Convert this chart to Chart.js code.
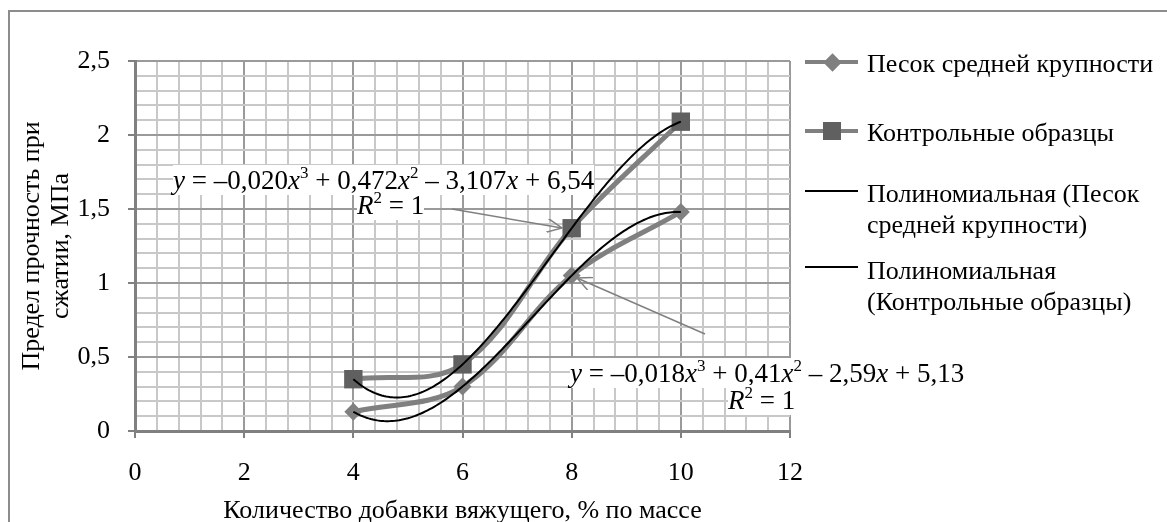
<!DOCTYPE html>
<html>
<head>
<meta charset="utf-8">
<script src="https://cdn.jsdelivr.net/npm/chart.js@4.4.1/dist/chart.umd.min.js"></script>
<style>
  body { margin: 0; background: #fff; overflow: hidden; }
  #wrap { position: relative; width: 1167px; height: 522px; font-family: "Liberation Serif", "Times New Roman", serif; color: #000; }
  #frame { position: absolute; left: 8px; top: 10px; width: 1300px; height: 700px; border: 2px solid #8c8c8c; }
  #c { position: absolute; left: 0; top: 0; }
  .lg { position: absolute; left: 867px; font-size: 26px; line-height: 31px; white-space: nowrap; }
  .ln { position: absolute; left: 805px; width: 53px; }
  .eq { position: absolute; font-size: 27px; line-height: 26px; white-space: nowrap; }
  .eq span { background: #fff; }
  sup { font-size: 17px; line-height: 0; vertical-align: 0; position: relative; top: -11px; }
  svg { position: absolute; left: 0; top: 0; }
</style>
</head>
<body>
<div id="wrap">
  <div id="frame"></div>
  <canvas id="c" width="1167" height="522"></canvas>

  <svg width="1167" height="522">
    <defs>
      <marker id="ah" viewBox="0 0 16 14" refX="15" refY="7" markerWidth="16" markerHeight="14" markerUnits="userSpaceOnUse" orient="auto">
        <path d="M0,0 L15,7 L0,14" fill="none" stroke="#808080" stroke-width="1.5"/>
      </marker>
    </defs>
    <g stroke="#808080" stroke-width="1.5">
      <line x1="452" y1="209" x2="562" y2="228" marker-end="url(#ah)"/>
      <line x1="705" y1="334" x2="577" y2="278" marker-end="url(#ah)"/>
    </g>
  </svg>

  <div class="eq" style="left:173px; top:167px"><span><i>y</i> = –0,020<i>x</i><sup>3</sup> + 0,472<i>x</i><sup>2</sup> – 3,107<i>x</i> + 6,54</span></div>
  <div class="eq" style="left:357px; top:192px"><span><i>R</i><sup>2</sup> = 1</span></div>
  <div class="eq" style="left:570px; top:360px"><span><i>y</i> = –0,018<i>x</i><sup>3</sup> + 0,41<i>x</i><sup>2</sup> – 2,59<i>x</i> + 5,13</span></div>
  <div class="eq" style="left:728px; top:387px"><span><i>R</i><sup>2</sup> = 1</span></div>

  <!-- legend -->
  <div class="ln" style="top:60px; border-top:4px solid #808080"></div>
  <div style="position:absolute; left:826px; top:56px; width:13px; height:13px; background:#808080; transform:rotate(45deg)"></div>
  <div class="lg" style="top:48px">Песок средней крупности</div>

  <div class="ln" style="top:129px; border-top:4px solid #808080"></div>
  <div style="position:absolute; left:823px; top:122px; width:18px; height:18px; background:#606060"></div>
  <div class="lg" style="top:117px">Контрольные образцы</div>

  <div class="ln" style="top:190px; border-top:2px solid #000"></div>
  <div class="lg" style="top:178px">Полиномиальная (Песок<br>средней крупности)</div>

  <div class="ln" style="top:266px; border-top:2px solid #000"></div>
  <div class="lg" style="top:255px">Полиномиальная<br>(Контрольные образцы)</div>
</div>

<script>
const xValues = [4, 6, 8, 10];
const sandY = [0.13, 0.30, 1.05, 1.48];
const controlY = [0.35, 0.45, 1.37, 2.09];

const xTickValues = [0, 2, 4, 6, 8, 10, 12];
const xTickLabels = ['0', '2', '4', '6', '8', '10', '12'];
const yTickValues = [0, 0.5, 1, 1.5, 2, 2.5];
const yTickLabels = ['0', '0,5', '1', '1,5', '2', '2,5'];

const FONT = '"Liberation Serif", "Times New Roman", serif';

function toPoints(ys) {
  return xValues.map((x, i) => ({ x: x, y: ys[i] }));
}

function majorIndex(list, v) {
  return list.findIndex(t => Math.abs(t - v) < 1e-6);
}

// cubic trendline (order 3 polynomial through the 4 points, R^2 = 1)
function polyAt(pts, xv) {
  let s = 0;
  for (let i = 0; i < pts.length; i++) {
    let l = 1;
    for (let j = 0; j < pts.length; j++) {
      if (j !== i) l *= (xv - pts[j].x) / (pts[i].x - pts[j].x);
    }
    s += pts[i].y * l;
  }
  return s;
}

const trendPlugin = {
  id: 'trendLines',
  afterDatasetsDraw(chart) {
    const { ctx, scales: { x, y } } = chart;
    chart.data.datasets.forEach(ds => {
      if (!ds.trend) return;
      const pts = ds.data;
      const x0 = pts[0].x, x1 = pts[pts.length - 1].x;
      ctx.save();
      ctx.strokeStyle = ds.borderColor;
      ctx.lineWidth = ds.borderWidth;
      ctx.beginPath();
      for (let i = 0; i <= 150; i++) {
        const xv = x0 + (x1 - x0) * i / 150;
        const px = x.getPixelForValue(xv);
        const py = y.getPixelForValue(polyAt(pts, xv));
        if (i === 0) ctx.moveTo(px, py); else ctx.lineTo(px, py);
      }
      ctx.stroke();
      ctx.restore();
    });
  }
};

const gridColor = list => c => majorIndex(list, c.tick.value) >= 0 ? '#9a9a9a' : '#c8c8c8';
const tickColor = list => c => majorIndex(list, c.tick.value) >= 0 ? '#808080' : 'rgba(0,0,0,0)';

new Chart(document.getElementById('c'), {
  type: 'scatter',
  data: {
    datasets: [
      {
        label: 'Песок средней крупности',
        data: toPoints(sandY),
        showLine: true,
        borderColor: '#808080',
        borderWidth: 5,
        tension: 0.35,
        pointStyle: 'rectRot',
        pointRadius: 9,
        pointBackgroundColor: '#808080',
        pointBorderWidth: 0
      },
      {
        label: 'Контрольные образцы',
        data: toPoints(controlY),
        showLine: true,
        borderColor: '#808080',
        borderWidth: 5,
        tension: 0.35,
        pointStyle: 'rect',
        pointRadius: 13,
        pointBackgroundColor: '#606060',
        pointBorderWidth: 0
      },
      {
        label: 'Полиномиальная (Песок средней крупности)',
        data: toPoints(sandY),
        trend: true,
        showLine: false,
        pointRadius: 0,
        borderColor: '#000',
        borderWidth: 2
      },
      {
        label: 'Полиномиальная (Контрольные образцы)',
        data: toPoints(controlY),
        trend: true,
        showLine: false,
        pointRadius: 0,
        borderColor: '#000',
        borderWidth: 2
      }
    ]
  },
  options: {
    responsive: false,
    animation: false,
    devicePixelRatio: 1,
    layout: { padding: { left: 0, top: 61, right: 377, bottom: 0 } },
    plugins: { legend: { display: false }, tooltip: { enabled: false } },
    scales: {
      x: {
        type: 'linear',
        min: xTickValues[0],
        max: xTickValues[xTickValues.length - 1],
        afterFit: s => { s.height = 91; },
        ticks: {
          stepSize: 0.4,
          maxTicksLimit: 100,
          autoSkip: false,
          maxRotation: 0,
          padding: 20,
          color: '#000',
          font: { family: FONT, size: 26 },
          callback: v => { const i = majorIndex(xTickValues, v); return i >= 0 ? xTickLabels[i] : ''; }
        },
        grid: { color: gridColor(xTickValues), lineWidth: 2, tickLength: 7, tickColor: tickColor(xTickValues), tickWidth: 2 },
        border: { color: '#808080', width: 3 },
        title: {
          display: true,
          text: 'Количество добавки вяжущего, % по массе',
          color: '#000',
          font: { family: FONT, size: 26, lineHeight: '22px' },
          padding: { top: 0, bottom: 0 }
        }
      },
      y: {
        min: yTickValues[0],
        max: yTickValues[yTickValues.length - 1],
        afterFit: s => { s.width = 135; },
        ticks: {
          stepSize: 0.1,
          maxTicksLimit: 100,
          autoSkip: false,
          padding: 18,
          color: '#000',
          font: { family: FONT, size: 26 },
          callback: v => { const i = majorIndex(yTickValues, v); return i >= 0 ? yTickLabels[i] : ''; }
        },
        grid: { color: gridColor(yTickValues), lineWidth: 2, tickLength: 7, tickColor: tickColor(yTickValues), tickWidth: 2 },
        border: { color: '#808080', width: 3 },
        title: {
          display: true,
          text: ['Предел прочность при', 'сжатии, МПа'],
          color: '#000',
          font: { family: FONT, size: 26, lineHeight: '29px' },
          padding: { top: 18, bottom: 0 }
        }
      }
    }
  },
  plugins: [trendPlugin]
});
</script>
</body>
</html>
